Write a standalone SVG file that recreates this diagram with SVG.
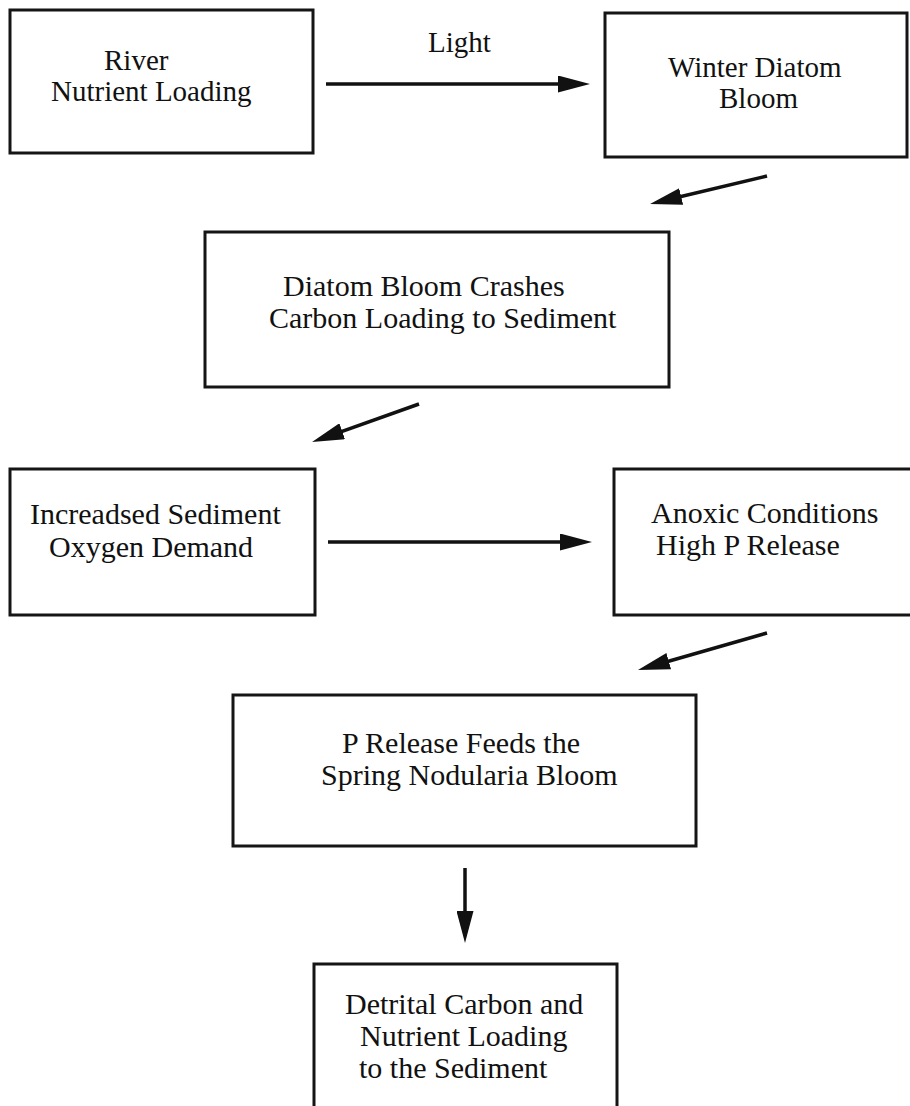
<svg xmlns="http://www.w3.org/2000/svg" width="910" height="1106" viewBox="0 0 910 1106">
  <style>
    .box { fill: #ffffff; stroke: #151515; stroke-width: 3; }
    .lbl { font-family: "Liberation Serif", "Times New Roman", serif; fill: #111111; }
    .top { font-size: 29px; }
    .mid { font-size: 30px; }
    .conn { stroke: #111111; stroke-width: 3.5; fill: none; marker-end: url(#head); }
  </style>
  <defs>
    <marker id="head" viewBox="0 0 32 17" markerWidth="32" markerHeight="17" refX="12" refY="8.5" orient="auto" markerUnits="userSpaceOnUse">
      <path d="M0,0 L32,8.5 L0,17 Z" fill="#111111"/>
    </marker>
  </defs>

  <rect width="910" height="1106" fill="#ffffff"/>

  <!-- causal links between the stages -->
  <g id="connectors">
    <line class="conn" x1="326" y1="84" x2="570" y2="84"/>
    <line class="conn" x1="767" y1="176" x2="669.5" y2="199.3"/>
    <line class="conn" x1="419" y1="404" x2="330.9" y2="435.3"/>
    <line class="conn" x1="328" y1="542" x2="572" y2="542"/>
    <line class="conn" x1="767" y1="633" x2="657.2" y2="664.5"/>
    <line class="conn" x1="465" y1="868" x2="465" y2="923"/>
  </g>

  <text class="lbl top" x="428" y="52">Light</text>

  <g id="river-loading">
    <rect class="box" x="10" y="10" width="303" height="143"/>
    <text class="lbl top" x="104" y="70">River</text>
    <text class="lbl top" x="51" y="101">Nutrient Loading</text>
  </g>

  <g id="winter-bloom">
    <rect class="box" x="605" y="13" width="302" height="144"/>
    <text class="lbl top" x="668" y="77">Winter Diatom</text>
    <text class="lbl top" x="719" y="108">Bloom</text>
  </g>

  <g id="bloom-crash">
    <rect class="box" x="205" y="232" width="464" height="155"/>
    <text class="lbl mid" x="283" y="296">Diatom Bloom Crashes</text>
    <text class="lbl mid" x="269" y="328">Carbon Loading to Sediment</text>
  </g>

  <g id="oxygen-demand">
    <rect class="box" x="10" y="469" width="305" height="146"/>
    <text class="lbl mid" x="30" y="524">Increadsed Sediment</text>
    <text class="lbl mid" x="49" y="557">Oxygen Demand</text>
  </g>

  <g id="anoxic">
    <rect class="box" x="614" y="469" width="300" height="146"/>
    <text class="lbl mid" x="651" y="523">Anoxic Conditions</text>
    <text class="lbl mid" x="656" y="555">High P Release</text>
  </g>

  <g id="nodularia">
    <rect class="box" x="233" y="695" width="463" height="151"/>
    <text class="lbl mid" x="342" y="753">P Release Feeds the</text>
    <text class="lbl mid" x="321" y="785">Spring Nodularia Bloom</text>
  </g>

  <g id="detrital">
    <rect class="box" x="314" y="964" width="303" height="160"/>
    <text class="lbl mid" x="345" y="1014">Detrital Carbon and</text>
    <text class="lbl mid" x="360" y="1046">Nutrient Loading</text>
    <text class="lbl mid" x="359" y="1078">to the Sediment</text>
  </g>
</svg>
